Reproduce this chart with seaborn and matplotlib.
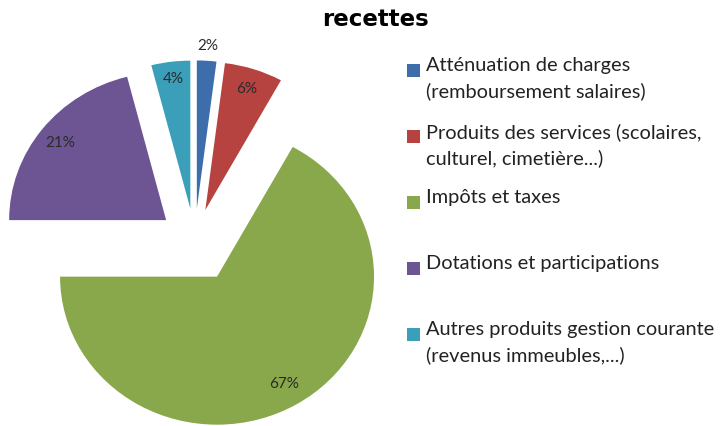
import numpy as np
import seaborn as sns
import matplotlib.pyplot as plt
from matplotlib.patches import Rectangle

# data
categories = ["Atténuation de charges\n(remboursement salaires)",
              "Produits des services (scolaires,\nculturel, cimetière...)",
              "Impôts et taxes",
              "Dotations et participations",
              "Autres produits gestion courante\n(revenus immeubles,...)"]
shares = [2, 6, 67, 21, 4]
pct_labels = ["2%", "6%", "67%", "21%", "4%"]
explode = [0.22, 0.22, 0.28, 0.23, 0.22]
label_dist = [1.1, 0.86, 0.84, 0.85, 0.88]
colors = ["#3d6dab", "#b6433f", "#89a84b", "#6d5493", "#3b9fb9"]

sns.set_theme(style="white")
plt.rcParams['font.family'] = ['Lato', 'DejaVu Sans']

fig = plt.figure(figsize=(7.2, 4.26), dpi=100)
ax = fig.add_axes([0, 0, 400 / 720, 1])

wedges, _ = ax.pie(shares, explode=explode, colors=colors, startangle=90,
                   counterclock=False, wedgeprops=dict(linewidth=0))
ax.set_aspect('auto')
ax.set_xlim(-1.24, 1.308)
ax.set_ylim(-1.25, 1.628)
ax.axis('off')

# percentage labels
for w, lab, ex, d in zip(wedges, pct_labels, explode, label_dist):
    mid = np.deg2rad((w.theta1 + w.theta2) / 2)
    x = (ex + d) * np.cos(mid)
    y = (ex + d) * np.sin(mid)
    ax.text(x, y, lab, ha='center', va='center', fontsize=11, color='#2a2a2a')

# title
fig.text(376 / 720, 1 - 20 / 426, "recettes", ha='center', va='center',
         fontsize=16.5, fontweight='bold', family='DejaVu Sans', color='black')

# legend
y0 = 70
step = 66
for i, (lab, c) in enumerate(zip(categories, colors)):
    yp = y0 + i * step
    fig.patches.append(Rectangle((407 / 720, 1 - (yp + 6.5) / 426), 13 / 720, 13 / 426,
                                 transform=fig.transFigure, facecolor=c,
                                 edgecolor='none', figure=fig))
    fig.text(426 / 720, 1 - (yp - 13) / 426, lab, ha='left', va='top',
             fontsize=14.4, color='#222222', linespacing=1.55)

plt.savefig("out.png", dpi=100)
